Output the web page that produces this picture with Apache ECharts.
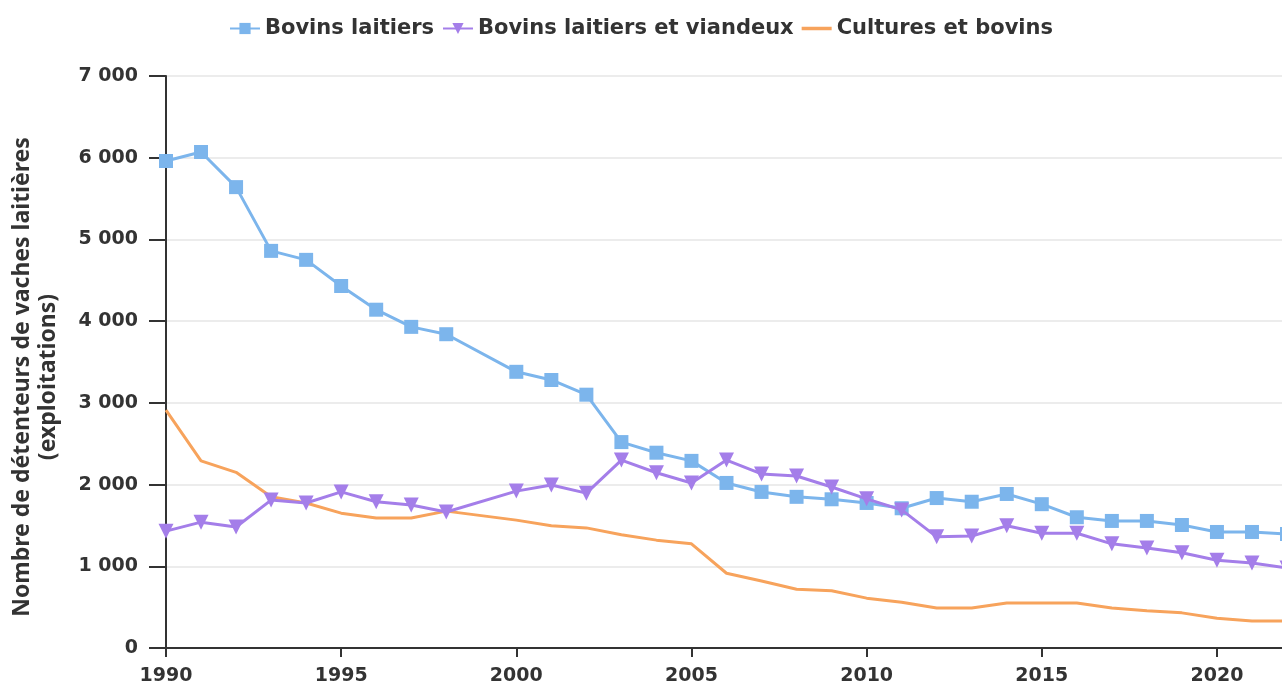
<!DOCTYPE html>
<html>
<head>
<meta charset="utf-8">
<script src="https://cdn.jsdelivr.net/npm/echarts@6/dist/echarts.min.js"></script>
<style>
html,body{margin:0;padding:0;background:#fff;overflow:hidden;}
#chart{width:1282px;height:684px;}
</style>
</head>
<body>
<div id="chart"></div>
<script>
// Years (1999 absent in the source)
const years = [1990,1991,1992,1993,1994,1995,1996,1997,1998,2000,2001,2002,2003,2004,2005,2006,2007,2008,2009,2010,2011,2012,2013,2014,2015,2016,2017,2018,2019,2020,2021,2022];
const bovinsLaitiers = [5960,6070,5640,4860,4750,4430,4140,3930,3840,3380,3280,3100,2520,2390,2290,2020,1910,1850,1820,1775,1710,1835,1790,1885,1760,1600,1555,1555,1505,1420,1420,1395];
const bovinsLaitiersViandeux = [1430,1540,1480,1810,1775,1910,1790,1750,1665,1920,1995,1895,2300,2145,2020,2300,2130,2105,1970,1825,1690,1360,1370,1495,1405,1405,1275,1225,1165,1075,1040,980];
const culturesBovins = [2910,2290,2150,1850,1775,1650,1590,1590,1675,1565,1495,1470,1385,1320,1275,915,820,720,700,610,560,490,490,550,550,550,490,455,430,365,330,330];
const seriesNames = ['Bovins laitiers','Bovins laitiers et viandeux','Cultures et bovins'];
const yAxisTitle = 'Nombre de détenteurs de vaches laitières\n(exploitations)';

function pairs(vals){ return years.map((y,i)=>[y,vals[i]]); }
const fmtThousands = v => String(v).replace(/\B(?=(\d{3})+(?!\d))/g,' ');

const chart = echarts.init(document.getElementById('chart'), null, {renderer:'canvas'});
const FONT = 'DejaVu Sans';
chart.setOption({
  animation:false,
  backgroundColor:'#fff',
  legend:{
    top:13, left:'center',
    itemWidth:30, itemHeight:14, itemGap:8,
    textStyle:{fontFamily:FONT, fontWeight:'bold', fontSize:21, color:'#333'},
    data:[
      {name:seriesNames[0]},
      {name:seriesNames[1]},
      {name:seriesNames[2], icon:'path://M0,0 L30,0 L30,3.5 L0,3.5 Z'}
    ]
  },
  grid:{left:166, right:-5, top:76, bottom:36, containLabel:false, outerBoundsMode:'none'},
  xAxis:{
    type:'value', min:1990, max:2022, interval:5,
    axisLine:{show:true, lineStyle:{color:'#333', width:2}},
    axisTick:{show:true, length:9, lineStyle:{color:'#333', width:2}},
    splitLine:{show:false},
    axisLabel:{fontFamily:FONT, fontWeight:'bold', fontSize:19, color:'#333', margin:19,
      formatter:v=> (v%5===0 ? String(v) : '')}
  },
  yAxis:{
    type:'value', min:0, max:7000, interval:1000,
    name:yAxisTitle, nameLocation:'middle', nameGap:105, nameRotate:90,
    nameTextStyle:{fontFamily:'Noto Sans', fontWeight:'bold', fontSize:23, color:'#333', lineHeight:26,
      padding:[0,30,0,0]},
    axisLine:{show:true, lineStyle:{color:'#333', width:2}},
    axisTick:{show:true, length:17, lineStyle:{color:'#333', width:2}},
    splitLine:{show:true, lineStyle:{color:'#e6e6e6', width:1.5}},
    axisLabel:{fontFamily:FONT, fontWeight:'bold', fontSize:19, color:'#333', margin:28,
      formatter:v=>fmtThousands(v)}
  },
  series:[
    {name:seriesNames[0], type:'line', data:pairs(bovinsLaitiers),
     symbol:'rect', symbolSize:14, showSymbol:true,
     itemStyle:{color:'#7cb5ec'}, lineStyle:{color:'#7cb5ec', width:3}, z:3},
    {name:seriesNames[1], type:'line', data:pairs(bovinsLaitiersViandeux),
     symbol:'triangle', symbolRotate:180, symbolSize:15, showSymbol:true,
     itemStyle:{color:'#a47ee9'}, lineStyle:{color:'#a47ee9', width:3}, z:4},
    {name:seriesNames[2], type:'line', data:pairs(culturesBovins),
     symbol:'none', showSymbol:false,
     itemStyle:{color:'#f7a35c'}, lineStyle:{color:'#f7a35c', width:3}, z:2}
  ]
});
</script>
</body>
</html>
